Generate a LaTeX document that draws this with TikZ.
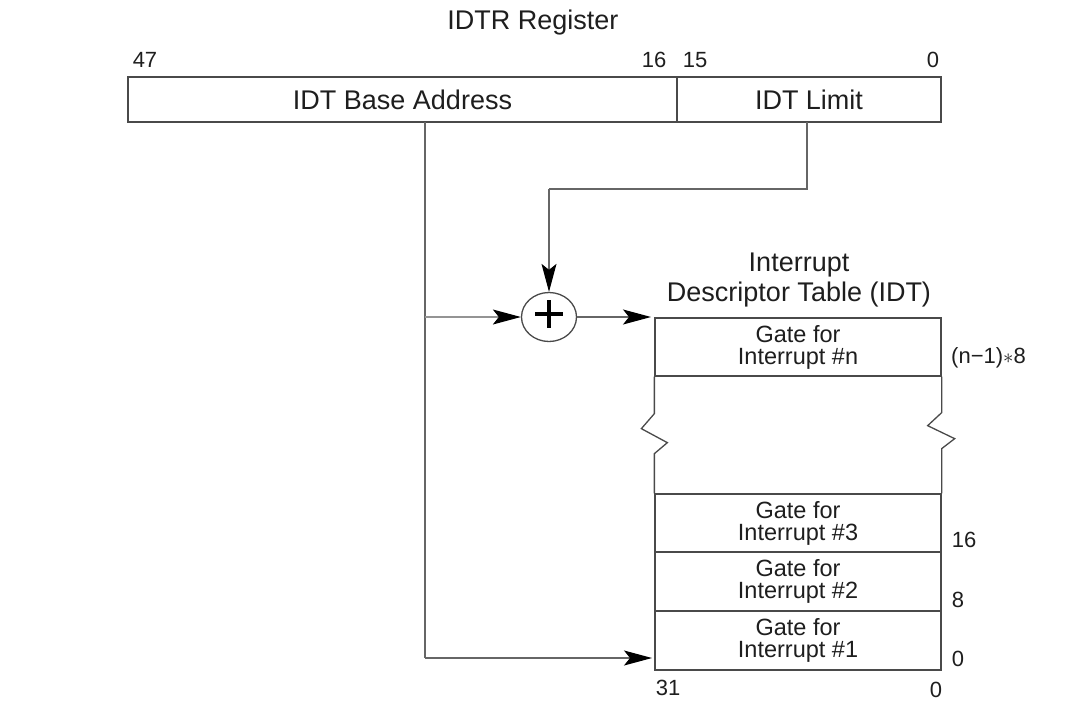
\documentclass[tikz,border=0pt]{standalone}
\usepackage{fontspec}
\setmainfont{Liberation Sans}
\usetikzlibrary{arrows.meta,shapes.geometric,calc}
\definecolor{ink}{HTML}{1E1E1E}
\definecolor{frame}{HTML}{4A4A4A}
\definecolor{wire}{HTML}{666666}
\begin{document}
\begin{tikzpicture}[x=1pt,y=-1pt,
  every node/.style={text=ink, inner sep=0pt},
  field/.style={draw=frame, line width=1.3pt, minimum height=45pt, font=\fontsize{27}{30}\selectfont},
  gate/.style={draw=frame, line width=1.3pt, minimum width=286pt, align=center, font=\fontsize{23.5}{22}\selectfont},
  bitnum/.style={font=\fontsize{22}{24}\selectfont},
  title/.style={font=\fontsize{27}{30}\selectfont, align=center},
  wireline/.style={draw=wire, line width=1.2pt},
  tip/.style={-{Stealth[length=28pt,width=15pt,inset=6pt,black]}}
]
\useasboundingbox (0,0) rectangle (1089,702);

% IDTR register
\node[title] (regtitle) at (533,23) {IDTR Register};
\node[field, minimum width=549pt] (base) at (402.5,99.5) {IDT Base Address};
\node[field, minimum width=264pt] (limit) at (809,99.5) {IDT Limit};
\node[bitnum] (b47) at (145,60) {47};
\node[bitnum] (b16) at (654,60) {16};
\node[bitnum] (b15) at (695,60) {15};
\node[bitnum] (b0) at (933,60) {0};

% interrupt descriptor table
\node[title] (idttitle) at (799,280) {Interrupt\\[0pt]Descriptor Table (IDT)};
\node[gate, minimum height=58pt] (gaten) at (798,347) {Gate for\\Interrupt \#n};
\node[gate, minimum height=58pt] (gate3) at (798,523) {Gate for\\Interrupt \#3};
\node[gate, minimum height=59pt] (gate2) at (798,581.5) {Gate for\\Interrupt \#2};
\node[gate, minimum height=59pt] (gate1) at (798,640.5) {Gate for\\Interrupt \#1};

% broken middle section
\draw[draw=frame, line width=1.3pt]
  (gaten.south west) -- ++(0,37) -- ++(-13,15) -- ++(26,14) -- ++(-13,11) -- (gate3.north west);
\draw[draw=frame, line width=1.3pt]
  (gaten.south east) -- ++(0,36) -- ++(-14,13) -- ++(27,13) -- ++(-13,10) -- (gate3.north east);

% offsets and bit numbers of the table
\node[bitnum, anchor=west] (offn) at (951,358) {(n−1)$\ast$8};
\node[bitnum] (off16) at (964,540) {16};
\node[bitnum] (off8) at (958,600) {8};
\node[bitnum] (off0) at (958,659) {0};
\node[bitnum] (t31) at (668,688) {31};
\node[bitnum] (t0) at (936,690) {0};

% adder
\node[draw=frame, line width=1.3pt, ellipse, minimum width=55pt, minimum height=49pt] (add) at (549,317) {};
\draw[line width=4pt, black] ($(add.center)+(-14,-3)$) -- ($(add.center)+(14,-3)$);
\draw[line width=4pt, black] ($(add.center)+(0,-17)$) -- ($(add.center)+(0,11)$);

% connectors
\coordinate (bx) at (425,122);
\coordinate (branch) at (425,317);
\coordinate (bcorner) at (425,658);
\coordinate (basetip) at (652,658);
\coordinate (lx) at (807,122);
\coordinate (bend) at (807,189);
\coordinate (addtip) at (651,317);
\draw[wireline] (bx) -- (bcorner);
\draw[wireline, tip] (bcorner) -- (basetip);
\draw[wireline, draw=wire!70, tip] (branch) -- (add.west);
\draw[wireline] (lx) -- (bend) -- (bend -| add.north);
\draw[wireline, tip] (bend -| add.north) -- (add.north);
\draw[wireline, tip] (add.east) -- (addtip);
\end{tikzpicture}
\end{document}
